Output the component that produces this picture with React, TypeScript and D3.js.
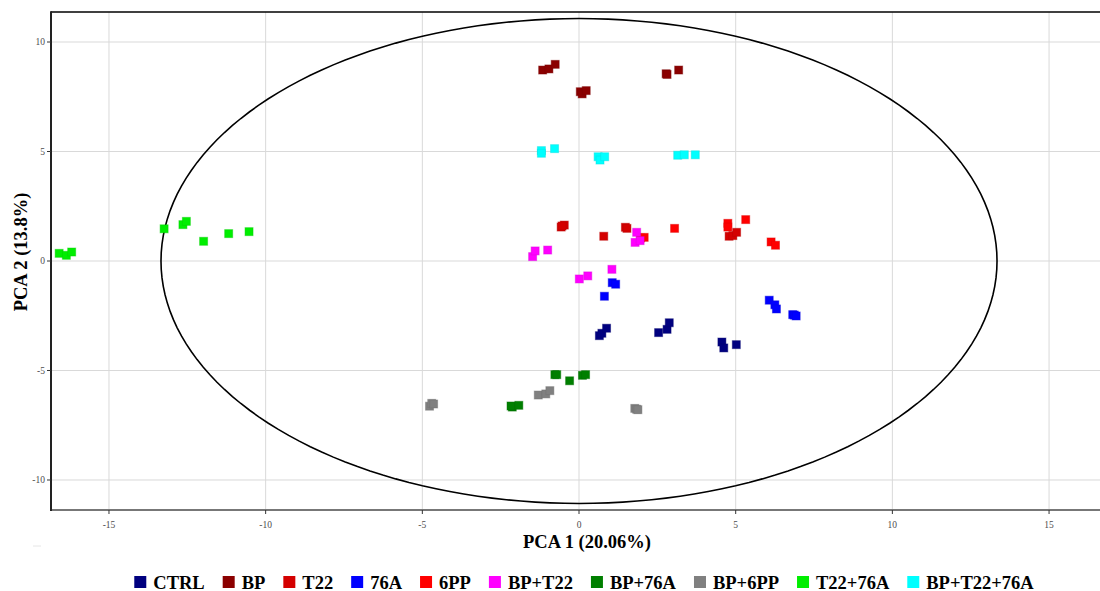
import * as d3 from 'd3'
import { useLayoutEffect, useRef, useState } from 'react'

const W = 1100, H = 591
const panel = { left: 51, top: 12, right: 1123, bottom: 510 }

const groups = ['CTRL', 'BP', 'T22', '76A', '6PP', 'BP+T22', 'BP+76A', 'BP+6PP', 'T22+76A', 'BP+T22+76A']
const colors = ['#00007F', '#8B0000', '#D40000', '#0000FF', '#FF0000', '#FF00FF', '#007F00', '#808080', '#00EE00', '#00FFFF']

const ctrl = [[0.65, -3.41], [0.73, -3.30], [0.88, -3.07], [2.54, -3.27], [2.81, -3.12], [2.88, -2.82], [4.56, -3.70], [4.62, -3.97], [5.02, -3.82]]
const bp = [[-1.16, 8.72], [-0.96, 8.77], [-0.76, 8.98], [0.04, 7.73], [0.10, 7.63], [0.23, 7.78], [2.78, 8.55], [2.81, 8.52], [3.18, 8.72]]
const t22 = [[-0.57, 1.55], [-0.47, 1.64], [-0.54, 1.60], [0.79, 1.13], [1.48, 1.54], [1.53, 1.49], [4.79, 1.13], [4.91, 1.16], [5.03, 1.31]]
const a76 = [[1.06, -0.99], [1.17, -1.06], [0.81, -1.61], [6.07, -1.79], [6.25, -2.00], [6.30, -2.19], [6.82, -2.45], [6.87, -2.47], [6.93, -2.51]]
const pp6 = [[1.96, 1.05], [2.08, 1.08], [3.05, 1.49], [4.75, 1.72], [4.75, 1.55], [5.32, 1.89], [6.13, 0.87], [6.27, 0.72]]
const bpT22 = [[-1.48, 0.20], [-1.40, 0.46], [-1.00, 0.50], [0.01, -0.82], [0.28, -0.68], [1.05, -0.38], [1.84, 1.31], [1.79, 0.85], [1.95, 0.93]]
const bp76A = [[-0.77, -5.19], [-0.71, -5.19], [-0.30, -5.47], [0.11, -5.22], [0.21, -5.19], [-2.13, -6.67], [-2.17, -6.62], [-1.92, -6.59]]
const bp6PP = [[-4.77, -6.63], [-4.70, -6.50], [-4.64, -6.53], [-1.30, -6.12], [-1.06, -6.07], [-0.93, -5.92], [1.78, -6.73], [1.84, -6.77], [1.88, -6.79]]
const t22_76A = [[-16.59, 0.35], [-16.36, 0.26], [-16.19, 0.41], [-13.24, 1.47], [-12.64, 1.66], [-12.53, 1.81], [-11.98, 0.90], [-11.18, 1.25], [-10.53, 1.34]]
const bpT22_76A = [[-1.20, 5.04], [-1.20, 4.92], [-0.78, 5.13], [0.61, 4.76], [0.67, 4.61], [0.82, 4.76], [3.15, 4.83], [3.36, 4.85], [3.71, 4.85]]

const series = [ctrl, bp, t22, a76, pp6, bpT22, bp76A, bp6PP, t22_76A, bpT22_76A]

const xTicks = [-15, -10, -5, 0, 5, 10, 15]
const yTicks = [-10, -5, 0, 5, 10]
// confidence ellipse radii (PC1, PC2)
const ellipseR = [13.34, 11.07]

const serif = '"Liberation Serif", "Times New Roman", serif'

export default function App() {
  const x = d3.scaleLinear().domain([-16.85, 17.36]).range([panel.left, panel.right])
  const y = d3.scaleLinear().domain([-11.37, 11.37]).range([panel.bottom, panel.top])

  const ellipse = d3.line<number>()
    .x(a => x(ellipseR[0] * Math.cos(a)))
    .y(a => y(ellipseR[1] * Math.sin(a)))
    (d3.range(0, 2 * Math.PI + 0.01, Math.PI / 90))

  const legRef = useRef<SVGGElement>(null)
  const [widths, setWidths] = useState<number[]>(groups.map(g => g.length * 10))
  useLayoutEffect(() => {
    if (!legRef.current) return
    const ws = Array.from(legRef.current.querySelectorAll('text')).map(t => (t as SVGTextElement).getComputedTextLength())
    setWidths(ws)
  }, [])

  const sq = 12, gap = 7, itemGap = 18
  const total = d3.sum(widths) + groups.length * (sq + gap) + (groups.length - 1) * itemGap
  let cursor = 584 - total / 2
  const legX = widths.map(w => { const s = cursor; cursor += sq + gap + w + itemGap; return s })

  const m = 8
  return (
    <svg width={W} height={H} style={{ position: 'absolute', left: 0, top: 0, background: '#fff' }}>
      <defs>
        <clipPath id="clip"><rect x={panel.left} y={panel.top} width={panel.right - panel.left} height={panel.bottom - panel.top} /></clipPath>
      </defs>
      {/* grid */}
      {xTicks.map(t => <line key={'gx' + t} x1={x(t)} x2={x(t)} y1={panel.top} y2={panel.bottom} stroke="#d9d9d9" strokeWidth={1} />)}
      {yTicks.map(t => <line key={'gy' + t} x1={panel.left} x2={panel.right} y1={y(t)} y2={y(t)} stroke="#d9d9d9" strokeWidth={1} />)}

      <path d={ellipse ?? ''} fill="none" stroke="#000" strokeWidth={1.6} clipPath="url(#clip)" />

      <g clipPath="url(#clip)">
        {series.map((pts, gi) => pts.map((p, i) => (
          <rect key={gi + '-' + i} x={x(p[0]) - m / 2} y={y(p[1]) - m / 2} width={m} height={m}
            fill={colors[gi]} stroke={d3.color(colors[gi])!.darker(0.4).formatHex()} strokeOpacity={0.45} strokeWidth={1} />
        )))}
      </g>

      {/* panel borders */}
      <line x1={panel.left} x2={panel.right} y1={panel.top} y2={panel.top} stroke="#000" strokeWidth={1.5} />
      <line x1={panel.left} x2={panel.right} y1={panel.bottom} y2={panel.bottom} stroke="#777" strokeWidth={2} />
      <line x1={panel.left} x2={panel.left} y1={panel.top - 0.75} y2={panel.bottom + 1} stroke="#222" strokeWidth={2} />

      {/* ticks */}
      {xTicks.map(t => (
        <g key={'tx' + t}>
          <line x1={x(t)} x2={x(t)} y1={panel.bottom} y2={panel.bottom + 4} stroke="#333" />
          <text x={x(t)} y={528} textAnchor="middle" fontFamily={serif} fontSize={9.5} fill="#4d4d4d">{t}</text>
        </g>
      ))}
      {yTicks.map(t => (
        <g key={'ty' + t}>
          <line x1={panel.left - 4} x2={panel.left} y1={y(t)} y2={y(t)} stroke="#333" />
          <text x={45} y={y(t) + 3.3} textAnchor="end" fontFamily={serif} fontSize={9.5} fill="#4d4d4d">{t}</text>
        </g>
      ))}

      <line x1={33} x2={41} y1={546} y2={546} stroke="#e6e6e6" strokeWidth={1} />

      <text x={587} y={548} textAnchor="middle" fontFamily={serif} fontWeight="bold" fontSize={18.5}>PCA 1 (20.06%)</text>
      <text transform={`translate(27, 252) rotate(-90)`} textAnchor="middle" fontFamily={serif} fontWeight="bold" fontSize={18.5}>PCA 2 (13.8%)</text>

      <g ref={legRef}>
        {groups.map((g, i) => (
          <g key={g}>
            <rect x={legX[i]} y={576} width={sq} height={sq} fill={colors[i]} />
            <text x={legX[i] + sq + gap} y={588.5} fontFamily={serif} fontWeight="bold" fontSize={18.5}>{g}</text>
          </g>
        ))}
      </g>
    </svg>
  )
}
